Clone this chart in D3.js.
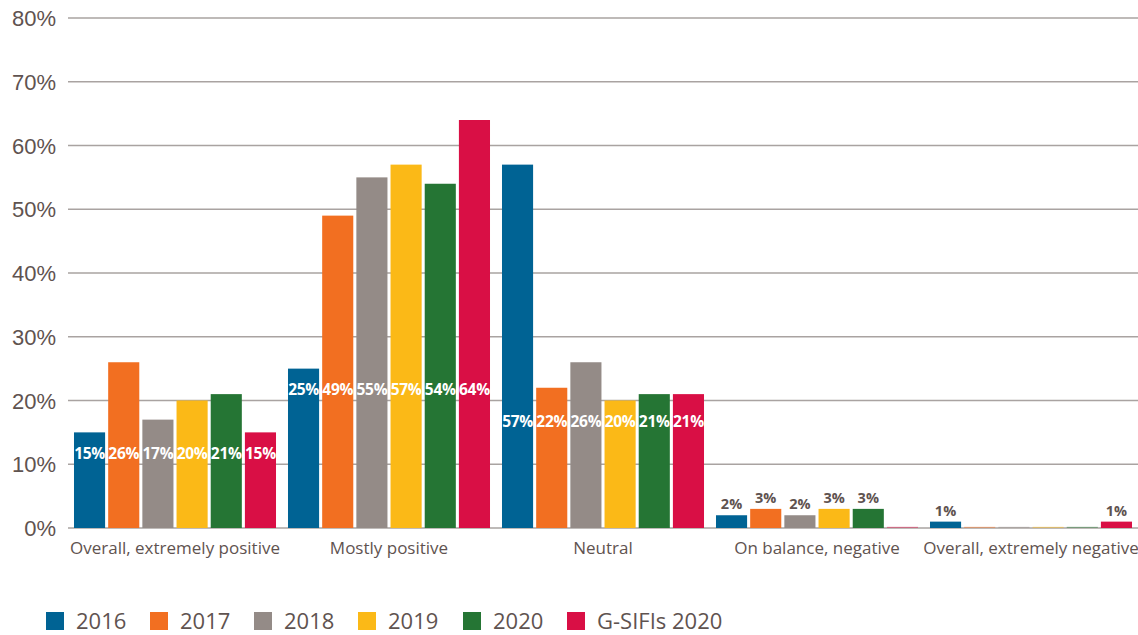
<!DOCTYPE html>
<html><head><meta charset="utf-8">
<script src="https://cdn.jsdelivr.net/npm/d3@7"></script>
<style>
html,body{margin:0;padding:0;background:#fff;}
svg{display:block;font-family:"Open Sans","Noto Sans",sans-serif;}
</style></head>
<body>
<svg id="chart" width="1138" height="635"></svg>
<script>
const categories = ["Overall, extremely positive","Mostly positive","Neutral","On balance, negative","Overall, extremely negative"];
const seriesNames = ["2016","2017","2018","2019","2020","G-SIFIs 2020"];
const v2016 = [15,25,57,2,1];
const v2017 = [26,49,22,3,0];
const v2018 = [17,55,26,2,0];
const v2019 = [20,57,20,3,0];
const v2020 = [21,54,21,3,0];
const vGSIFI = [15,64,21,0,1];
const yTicks = [0,10,20,30,40,50,60,70,80];
const colors = ["#006394","#f26f21","#948b87","#fbb917","#257534","#d90f45"];

const seriesValues = [v2016,v2017,v2018,v2019,v2020,vGSIFI];
const svg = d3.select("#chart");
const textCol = "#5f5350";

const x0 = d3.scaleBand().domain(categories).range([68,1138]).paddingInner(0.056).paddingOuter(0.028);
const x1 = d3.scaleBand().domain(seriesNames).range([0,x0.bandwidth()]).paddingInner(0.09);
const y = d3.scaleLinear().domain([0,80]).range([528,18]);

// gridlines
svg.append("g").selectAll("line").data(yTicks).join("line")
  .attr("x1",68).attr("x2",1138)
  .attr("y1",d=>y(d)).attr("y2",d=>y(d))
  .attr("stroke","#a9a3a1").attr("stroke-width",1.5);

// y axis
const yAxis = d3.axisLeft(y).tickValues(yTicks).tickFormat(d=>d+"%").tickSize(0).tickPadding(0);
const yg = svg.append("g").attr("transform","translate(56,0)").call(yAxis);
yg.select(".domain").remove();
yg.selectAll("text").attr("fill",textCol).attr("font-size",22).attr("dy","0.35em");

// bars
const groups = svg.append("g").selectAll("g").data(categories).join("g")
  .attr("transform",d=>`translate(${x0(d)},0)`);

groups.each(function(cat,ci){
  const g = d3.select(this);
  const vals = seriesValues.map(s=>s[ci]);
  const mn = d3.min(vals.filter(v=>v>0));
  const inside = mn >= 5;
  seriesNames.forEach((s,si)=>{
    const v = vals[si];
    const h = Math.max(y(0)-y(v), 1.2);
    g.append("rect")
      .attr("x",x1(s)).attr("width",x1.bandwidth())
      .attr("y",y(0)-h).attr("height",h)
      .attr("fill",colors[si]).attr("opacity", v>0?1:0.45);
    if(v>0){
      const t = g.append("text")
        .attr("x",x1(s)+x1.bandwidth()/2)
        .attr("text-anchor","middle")
        .attr("font-weight","bold");
      if(inside){
        t.attr("y",y(mn-3.3)).attr("dy","0.35em")
         .attr("fill","#fff").attr("font-size",15.5).attr("letter-spacing",-0.3).text(v+"%");
      } else {
        t.attr("y",y(v)-6)
         .attr("fill",textCol).attr("font-size",14.5).text(v+"%");
      }
    }
  });
});

// category axis labels
svg.append("g").selectAll("text").data(categories).join("text")
  .attr("x",d=>x0(d)+x0.bandwidth()/2).attr("y",548).attr("dy","0.35em")
  .attr("text-anchor","middle").attr("fill",textCol).attr("font-size",17)
  .text(d=>d);

// legend
const legendX = [46,150,254,358,463,567];
const lg = svg.append("g").selectAll("g").data(seriesNames).join("g")
  .attr("transform",(d,i)=>`translate(${legendX[i]},621)`);
lg.append("rect").attr("x",0).attr("y",-9).attr("width",18).attr("height",18)
  .attr("fill",(d,i)=>colors[i]);
lg.append("text").attr("x",30).attr("y",0).attr("dy","0.35em")
  .attr("fill",textCol).attr("font-size",22).text(d=>d);
</script>
</body></html>
